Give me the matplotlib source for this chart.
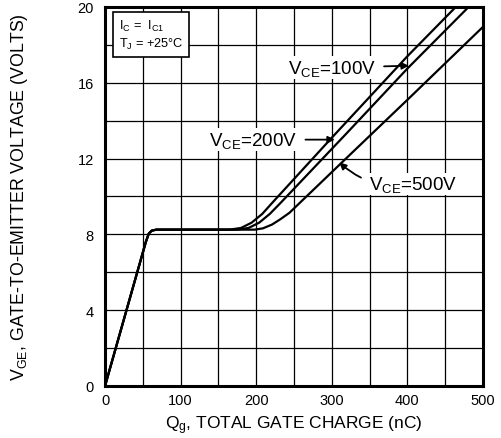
import matplotlib
matplotlib.use("Agg")
import matplotlib.pyplot as plt
import numpy as np

plt.rcParams["font.family"] = ["Liberation Sans", "DejaVu Sans"]
plt.rcParams["mathtext.fontset"] = "custom"
plt.rcParams["mathtext.rm"] = "Liberation Sans"
plt.rcParams["mathtext.default"] = "regular"

# gate charge curves, Qg (nC) vs VGE (V)
q_100 = [0, 54, 58, 62, 68, 165, 180, 194, 208, 222, 300, 400, 464]
v_100 = [0, 7.6, 8.05, 8.2, 8.25, 8.25, 8.34, 8.62, 9.08, 9.7, 13.1, 17.4, 20.0]
q_200 = [0, 54, 58, 62, 68, 175, 190, 204, 218, 232, 320, 400, 481]
v_200 = [0, 7.6, 8.05, 8.2, 8.25, 8.25, 8.34, 8.62, 9.08, 9.65, 13.35, 16.75, 20.0]
q_500 = [0, 54, 58, 62, 68, 198, 209, 221, 232, 244, 320, 400, 500]
v_500 = [0, 7.6, 8.05, 8.2, 8.25, 8.25, 8.32, 8.52, 8.8, 9.14, 12.05, 15.1, 18.95]

x_ticks = [0, 100, 200, 300, 400, 500]
y_ticks = [0, 4, 8, 12, 16, 20]

fig = plt.figure(figsize=(5.01, 4.39), dpi=100)
ax = fig.add_axes([0.2096, 0.1185, 0.7544, 0.8633])

ax.set_xlim(0, 500)
ax.set_ylim(0, 20)
ax.set_xticks(x_ticks)
ax.set_yticks(y_ticks)
ax.set_xticks(np.arange(50, 500, 100), minor=True)
ax.set_yticks(np.arange(2, 20, 4), minor=True)
ax.grid(True, which="both", color="black", lw=0.9)
ax.tick_params(which="both", length=0, labelsize=10.5)
ax.tick_params(axis="y", pad=8)
ax.tick_params(axis="x", pad=5)
for s in ax.spines.values():
    s.set_linewidth(2.2)

for q, v in [(q_100, v_100), (q_200, v_200), (q_500, v_500)]:
    ax.plot(q, v, color="black", lw=1.6, solid_joinstyle="round", zorder=3)

ax.set_xlabel("Q$_g$, TOTAL GATE CHARGE (nC)", fontsize=12.5, labelpad=5)
ax.set_ylabel("V$_{GE}$, GATE-TO-EMITTER VOLTAGE (VOLTS)", fontsize=12.8, labelpad=34)

ax.text(18, 18.55, "I$_C$ =  I$_{C1}$\nT$_J$ = +25°C", fontsize=9.2, va="center",
        linespacing=1.35, zorder=4,
        bbox=dict(boxstyle="square,pad=0.45", fc="white", ec="black", lw=1.2))

arrow = dict(arrowstyle="-|>", color="black", lw=1.3, mutation_scale=10, shrinkA=5, shrinkB=0)
lbl = dict(fontsize=13.5, ha="center", va="center", zorder=5,
           bbox=dict(fc="white", ec="none", pad=1))
ax.annotate("V$_{CE}$=100V", xy=(402, 16.9), xytext=(300, 16.8),
            arrowprops=arrow, **lbl)
ax.annotate("V$_{CE}$=200V", xy=(304, 13.0), xytext=(196, 13.0),
            arrowprops=arrow, **lbl)
ax.annotate("V$_{CE}$=500V", xy=(310, 11.8), xytext=(407, 10.65),
            arrowprops=dict(arrow, connectionstyle="arc3,rad=-0.25"), **lbl)

fig.savefig("out.png", dpi=100)
